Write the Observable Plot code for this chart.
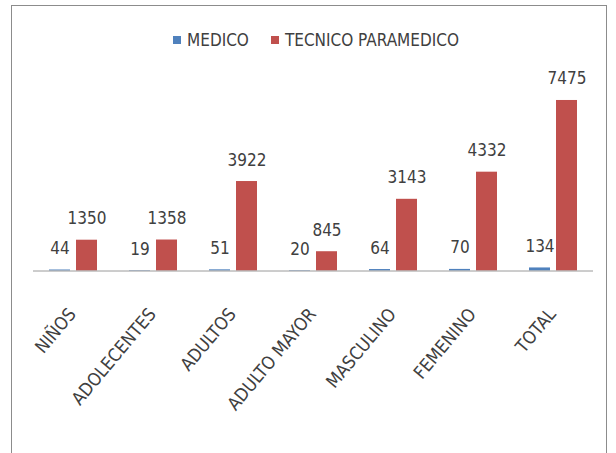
<!DOCTYPE html>
<html>
<head>
<meta charset="utf-8">
<script src="https://cdn.jsdelivr.net/npm/d3@7"></script>
<script src="https://cdn.jsdelivr.net/npm/@observablehq/plot@0.6"></script>
<style>
  html, body { margin: 0; padding: 0; background: #fff; }
  #wrap { position: relative; width: 616px; height: 453px; overflow: hidden;
          font-family: "Liberation Sans Narrow", "DejaVu Sans Condensed", "Roboto Condensed", "Open Sans", sans-serif; color: #404040; }
  #frame { position: absolute; left: 11px; top: 5px; width: 596px; height: 480px;
           border: 1.5px solid #8c8c8c; box-sizing: border-box; }
  #legend { position: absolute; left: 0; width: 632px; top: 30px; display: flex; justify-content: center; align-items: center;
            font-size: 17px; gap: 22px; }
  .sw { display: inline-block; width: 8px; height: 8px; margin-right: 6px; vertical-align: middle; }
  .item { display: flex; align-items: center; }
  #chart { position: absolute; left: 0; top: 60px; }
</style>
</head>
<body>
<div id="wrap">
  <div id="frame"></div>
  <div id="legend"></div>
  <div id="chart"></div>
</div>
<script>
const categories = ["NIÑOS", "ADOLECENTES", "ADULTOS", "ADULTO MAYOR", "MASCULINO", "FEMENINO", "TOTAL"];
const series = ["MEDICO", "TECNICO PARAMEDICO"];
const medico = [44, 19, 51, 20, 64, 70, 134];
const tecnico = [1350, 1358, 3922, 845, 3143, 4332, 7475];
const colors = ["#4F81BD", "#C0504D"];

const data = [];
categories.forEach((c, i) => {
  data.push({cat: c, series: series[0], value: medico[i]});
  data.push({cat: c, series: series[1], value: tecnico[i]});
});

const legend = document.getElementById("legend");
series.forEach((s, i) => {
  const it = document.createElement("span");
  it.className = "item";
  const sw = document.createElement("span");
  sw.className = "sw";
  sw.style.background = colors[i];
  it.appendChild(sw);
  it.appendChild(document.createTextNode(s));
  legend.appendChild(it);
});

const chart = Plot.plot({
  width: 616,
  height: 393,
  marginLeft: 32,
  marginRight: 22,
  marginTop: 28,
  marginBottom: 182.5,
  style: {fontFamily: '"Liberation Sans Narrow", "DejaVu Sans Condensed", "Roboto Condensed", "Open Sans", sans-serif', color: "#404040", background: "transparent"},
  fx: {domain: categories, paddingInner: 0, paddingOuter: 0},
  x: {domain: series, paddingInner: 0.214, paddingOuter: 0.55, axis: null},
  y: {domain: [0, 8000], axis: null},
  color: {domain: series, range: colors},
  marks: [
    Plot.barY(data, {fx: "cat", x: "series", y: "value", fill: "series"}),
    Plot.ruleY([0], {stroke: "#9a9a9a", strokeWidth: 1}),
    Plot.text(data, {fx: "cat", x: "series", y: "value", text: d => String(d.value), lineAnchor: "bottom", dy: -16, fontSize: 17, fill: "#404040"}),
    Plot.axisFx({anchor: "bottom", tickRotate: -50, tickSize: 0, tickPadding: 40, dx: -1, fontSize: 18, label: null, fill: "#404040"})
  ]
});
document.getElementById("chart").appendChild(chart);
</script>
</body>
</html>
